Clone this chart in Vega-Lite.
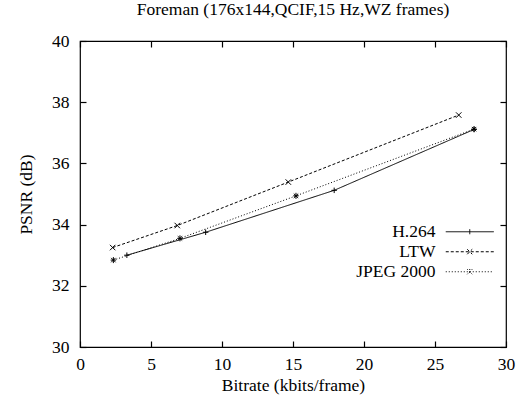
{
  "$schema": "https://vega.github.io/schema/vega-lite/v6.json",
  "width": 426,
  "height": 306,
  "autosize": {"type": "none"},
  "padding": {"left": 80, "top": 41, "right": 11, "bottom": 57},
  "background": "white",
  "view": {"stroke": "black", "strokeWidth": 1.2},
  "title": {"text": "Foreman (176x144,QCIF,15 Hz,WZ frames)", "font": "Liberation Serif", "fontSize": 17.5, "fontWeight": "normal", "offset": 14, "color": "black"},
  "config": {
    "font": "Liberation Serif",
    "view": {"stroke": "black", "strokeWidth": 1.2},
    "axis": {"labelFont": "Liberation Serif", "titleFont": "Liberation Serif", "labelFontSize": 17.5, "titleFontSize": 17.5, "titleFontWeight": "normal", "labelColor": "black", "titleColor": "black", "grid": false, "domain": false, "ticks": true, "tickColor": "black", "tickSize": -6, "tickWidth": 1.2, "tickOpacity": 1, "labelFlush": false, "zindex": 1}
  },
  "data": {"values": [
    {"series": "H.264", "bitrate": 3.3, "psnr": 33.0},
    {"series": "H.264", "bitrate": 8.85, "psnr": 33.75},
    {"series": "H.264", "bitrate": 17.9, "psnr": 35.12},
    {"series": "H.264", "bitrate": 27.75, "psnr": 37.11},
    {"series": "LTW", "bitrate": 2.3, "psnr": 33.25},
    {"series": "LTW", "bitrate": 6.85, "psnr": 33.97},
    {"series": "LTW", "bitrate": 14.67, "psnr": 35.39},
    {"series": "LTW", "bitrate": 26.67, "psnr": 37.58},
    {"series": "JPEG 2000", "bitrate": 2.35, "psnr": 32.84},
    {"series": "JPEG 2000", "bitrate": 7.04, "psnr": 33.55},
    {"series": "JPEG 2000", "bitrate": 15.21, "psnr": 34.94},
    {"series": "JPEG 2000", "bitrate": 27.75, "psnr": 37.12}
  ]},
  "layer": [
    {
      "mark": {"type": "line", "color": "black", "strokeWidth": 1},
      "encoding": {
        "x": {"field": "bitrate", "type": "quantitative", "scale": {"domain": [0, 30], "nice": false, "padding": 0}, "axis": {"orient": "bottom", "title": "Bitrate (kbits/frame)", "tickCount": 6, "labelPadding": 14, "titlePadding": 4}},
        "y": {"field": "psnr", "type": "quantitative", "scale": {"domain": [30, 40], "nice": false, "zero": false, "padding": 0}, "axis": {"orient": "left", "title": "PSNR (dB)", "tickCount": 5, "labelPadding": 17, "titlePadding": 16}},
        "strokeDash": {
          "field": "series", "type": "nominal",
          "scale": {"domain": ["H.264", "LTW", "JPEG 2000"], "range": [[1, 0], [3, 2], [1, 2]]},
          "legend": {
            "title": null, "orient": "none", "legendX": 295, "legendY": 182, "padding": 0,
            "labelFont": "Liberation Serif", "labelFontSize": 17.5, "labelColor": "black",
            "symbolSize": 100, "symbolOffset": 86, "labelOffset": -43, "labelAlign": "right",
            "rowPadding": 1, "symbolStrokeColor": "black", "symbolStrokeWidth": 1,
            "encode": {"symbols": {"update": {"shape": {"signal": "datum.value == 'H.264' ? 'M-4.8,0L4.8,0M0,-0.5L0,0.5' : datum.value == 'LTW' ? 'M-4.8,0L4.8,0M-0.5,-0.5L0.5,0.5M-0.5,0.5L0.5,-0.5' : 'M-4.8,0L4.8,0M0,-0.55L0,0.55M-0.5,-0.5L0.5,0.5M-0.5,0.5L0.5,-0.5'"}, "stroke": {"value": "black"}}}}
          }
        }
      }
    },
    {
      "transform": [{"filter": "datum.series == 'H.264'"}],
      "mark": {"type": "point", "filled": false, "stroke": "black", "strokeWidth": 1, "size": 30, "opacity": 1, "shape": "M-1,0L1,0M0,-1L0,1"},
      "encoding": {
        "x": {"field": "bitrate", "type": "quantitative", "axis": {"orient": "top", "title": null, "labels": false, "tickCount": 6}},
        "y": {"field": "psnr", "type": "quantitative", "axis": {"orient": "right", "title": null, "labels": false, "tickCount": 5}}
      }
    },
    {
      "transform": [{"filter": "datum.series == 'LTW'"}],
      "mark": {"type": "point", "filled": false, "stroke": "black", "strokeWidth": 1, "size": 30, "opacity": 1, "shape": "M-1,-1L1,1M-1,1L1,-1"},
      "encoding": {
        "x": {"field": "bitrate", "type": "quantitative", "axis": null},
        "y": {"field": "psnr", "type": "quantitative", "axis": null}
      }
    },
    {
      "transform": [{"filter": "datum.series == 'JPEG 2000'"}],
      "mark": {"type": "point", "filled": false, "stroke": "black", "strokeWidth": 1, "size": 30, "opacity": 1, "shape": "M-1,0L1,0M0,-1.1L0,1.1M-0.8,-0.8L0.8,0.8M-0.8,0.8L0.8,-0.8"},
      "encoding": {
        "x": {"field": "bitrate", "type": "quantitative", "axis": null},
        "y": {"field": "psnr", "type": "quantitative", "axis": null}
      }
    }
  ],
  "resolve": {"axis": {"x": "independent", "y": "independent"}}
}
